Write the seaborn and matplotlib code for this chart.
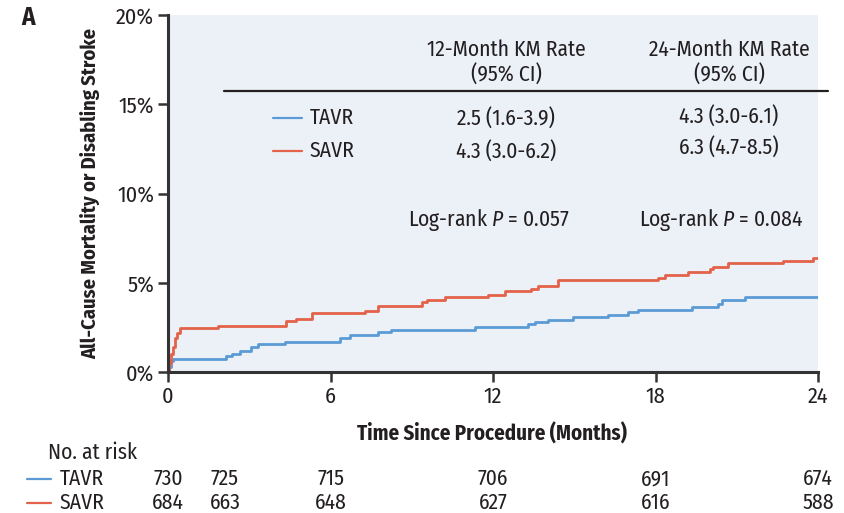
import numpy as np
import pandas as pd
import matplotlib
matplotlib.use("Agg")
import matplotlib.pyplot as plt
import matplotlib.transforms as mtransforms
from matplotlib.lines import Line2D
import seaborn as sns

# ---- data ----
tavr_months = [0, 0.05, 0.12, 0.17, 2.14, 2.35, 2.65, 3.08, 3.33, 4.32, 6.35, 6.72, 7.76, 8.25,
               11.33, 13.3, 13.55, 14.04, 14.96, 16.26, 17.0, 17.36, 19.33, 20.31, 20.44, 21.3, 24]
tavr_rate = [0, 0.3, 0.6, 0.71, 0.88, 1.0, 1.16, 1.4, 1.57, 1.68, 1.9, 2.08, 2.23, 2.38,
             2.5, 2.69, 2.79, 2.93, 3.07, 3.2, 3.35, 3.5, 3.63, 3.82, 4.06, 4.2, 4.2]
savr_months = [0, 0.05, 0.1, 0.17, 0.25, 0.35, 0.45, 1.85, 4.37, 4.74, 5.3, 7.27, 7.76, 9.36,
               9.55, 10.22, 11.82, 12.43, 13.42, 13.67, 14.41, 18.1, 18.35, 19.21, 20.0, 20.13,
               20.68, 22.71, 23.82, 24]
savr_rate = [0, 0.5, 1.0, 1.4, 1.9, 2.2, 2.45, 2.6, 2.84, 2.99, 3.3, 3.44, 3.72, 3.92,
             4.05, 4.18, 4.33, 4.52, 4.63, 4.82, 5.13, 5.26, 5.41, 5.6, 5.75, 5.9,
             6.08, 6.2, 6.37, 6.37]

groups = ["TAVR", "SAVR"]
km12 = ["2.5 (1.6-3.9)", "4.3 (3.0-6.2)"]
km24 = ["4.3 (3.0-6.1)", "6.3 (4.7-8.5)"]
logrank = ["0.057", "0.084"]
risk_months = [0, 2.1, 6, 12, 18, 24]
tavr_risk = [730, 725, 715, 706, 691, 674]
savr_risk = [684, 663, 648, 627, 616, 588]
x_ticks = [0, 6, 12, 18, 24]
y_ticks = [0, 5, 10, 15, 20]

BLUE = "#5B9BD5"
RED = "#E4624A"
BG = "#ECF1F8"
DARK = "#231F20"

df = pd.concat([
    pd.DataFrame({"month": tavr_months, "rate": tavr_rate, "group": "TAVR"}),
    pd.DataFrame({"month": savr_months, "rate": savr_rate, "group": "SAVR"}),
])

sns.set_theme(style="ticks")
FONT = ["Fira Sans Condensed", "DejaVu Sans"]
plt.rcParams["font.family"] = FONT
plt.rcParams["font.weight"] = "normal"
plt.rcParams["text.color"] = DARK
plt.rcParams["mathtext.fontset"] = "custom"
plt.rcParams["mathtext.it"] = "Fira Sans Condensed:italic"
plt.rcParams["mathtext.rm"] = "Fira Sans Condensed"

W, H = 844, 513
fig = plt.figure(figsize=(W / 100, H / 100), dpi=100)
ax = fig.add_axes([168 / W, 1 - 372 / H, 650 / W, 357 / H])
ax.set_facecolor(BG)

sns.lineplot(data=df, x="month", y="rate", hue="group", palette={"TAVR": BLUE, "SAVR": RED},
             drawstyle="steps-post", linewidth=2.0, estimator=None, sort=False,
             legend=False, ax=ax)

ax.set_xlim(0, 24)
ax.set_ylim(0, 20)
ax.set_xticks(x_ticks)
ax.set_xticklabels([str(t) for t in x_ticks])
ax.set_yticks(y_ticks)
ax.set_yticklabels([f"{t}%" for t in y_ticks])
for s in ["top", "right"]:
    ax.spines[s].set_visible(False)
for s in ["left", "bottom"]:
    ax.spines[s].set_linewidth(2.2)
    ax.spines[s].set_color("#333333")
ax.tick_params(axis="both", length=7, width=1.8, color="#333333", labelsize=16, labelcolor=DARK, pad=3)

ax.set_xlabel("Time Since Procedure (Months)", fontsize=15, fontweight="bold", color=DARK)
ax.set_ylabel("All-Cause Mortality or Disabling Stroke", fontsize=14.7, fontweight="bold", color=DARK)
ax.xaxis.set_label_coords((492 - 168) / 650, (372 - 423) / 357)
ax.yaxis.set_label_coords((100 - 168) / 650, 0.5)

# panel letter
fig.text(28 / W, 1 - 18 / H, "A", fontsize=18, fontweight="bold", ha="center", va="center")

def fy(py):
    return 1 - py / H

def fx(px):
    return px / W

fs = 15.5
# in-plot table
fig.text(fx(506), fy(50), "12-Month KM Rate", fontsize=fs, ha="center", va="center")
fig.text(fx(506), fy(74), "(95% CI)", fontsize=fs, ha="center", va="center")
fig.text(fx(729), fy(50), "24-Month KM Rate", fontsize=fs, ha="center", va="center")
fig.text(fx(729), fy(74), "(95% CI)", fontsize=fs, ha="center", va="center")
fig.add_artist(Line2D([fx(224), fx(828)], [fy(91), fy(91)], color=DARK, lw=1.6,
                      transform=fig.transFigure))
row_y = [118, 151]
row_y24 = [116, 147]
for g, c, y, y24, a, b in zip(groups, [BLUE, RED], row_y, row_y24, km12, km24):
    fig.add_artist(Line2D([fx(273), fx(302)], [fy(y), fy(y)], color=c, lw=1.6,
                          transform=fig.transFigure))
    fig.text(fx(310), fy(y), g, fontsize=fs, ha="left", va="center")
    fig.text(fx(506), fy(y), a, fontsize=fs, ha="center", va="center")
    fig.text(fx(729), fy(y24), b, fontsize=fs, ha="center", va="center")
for xc, p in zip([489, 721], logrank):
    fig.text(fx(xc), fy(220), f"Log-rank $\\it{{P}}$ = {p}", fontsize=fs, ha="center", va="center")

# risk table
trans = mtransforms.blended_transform_factory(ax.transData, fig.transFigure)
fig.text(fx(48), fy(453), "No. at risk", fontsize=fs, ha="left", va="center")
for g, c, y, vals in zip(groups, [BLUE, RED], [479, 503], [tavr_risk, savr_risk]):
    fig.add_artist(Line2D([fx(27), fx(51)], [fy(y), fy(y)], color=c, lw=1.6,
                          transform=fig.transFigure))
    fig.text(fx(60), fy(y), g, fontsize=fs, ha="left", va="center")
    for m, v in zip(risk_months, vals):
        ax.text(m, fy(y), str(v), fontsize=fs, ha="center", va="center", transform=trans,
                clip_on=False)

fig.savefig("out.png", dpi=100, facecolor="white")
